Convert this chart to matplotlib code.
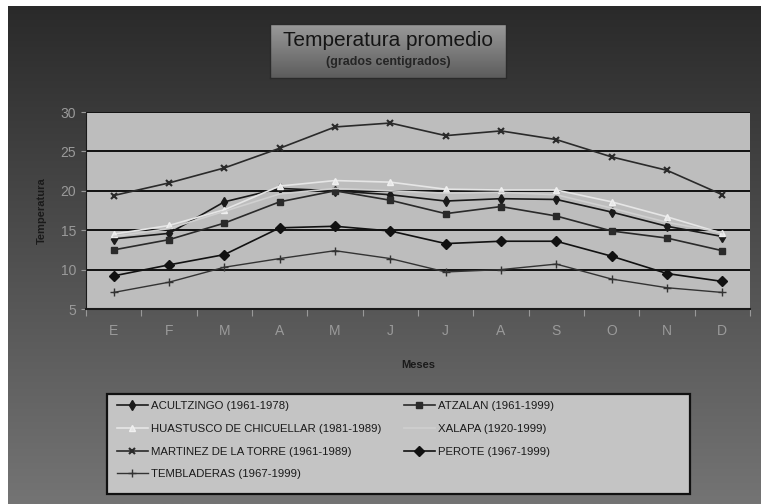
import numpy as np
import matplotlib.pyplot as plt
from matplotlib.colors import LinearSegmentedColormap

# ==============================
# DATOS
# ==============================
meses = ["E", "F", "M", "A", "M", "J", "J", "A", "S", "O", "N", "D"]

acultzingo = [13.9, 14.6, 18.6, 20.3, 20.0, 19.5, 18.7, 19.0, 18.9, 17.3, 15.5, 14.2]
atzalan = [12.5, 13.8, 15.9, 18.6, 20.0, 18.8, 17.1, 18.0, 16.8, 14.9, 14.0, 12.4]
huatusco = [14.5, 15.6, 17.6, 20.6, 21.3, 21.1, 20.2, 20.1, 20.1, 18.6, 16.7, 14.6]
xalapa = [14.2, 15.2, 17.4, 19.6, 20.3, 20.0, 19.7, 19.8, 19.5, 17.8, 16.0, 14.7]
martinez = [19.4, 21.0, 22.9, 25.4, 28.1, 28.6, 27.0, 27.6, 26.5, 24.3, 22.6, 19.5]
perote = [9.2, 10.6, 11.9, 15.3, 15.5, 14.9, 13.3, 13.6, 13.6, 11.7, 9.5, 8.5]
tembladeras = [7.1, 8.4, 10.3, 11.4, 12.4, 11.4, 9.7, 10.0, 10.7, 8.8, 7.7, 7.1]

etiquetas = [
    "ACULTZINGO (1961-1978)",
    "ATZALAN (1961-1999)",
    "HUASTUSCO DE CHICUELLAR (1981-1989)",
    "XALAPA (1920-1999)",
    "MARTINEZ DE LA TORRE (1961-1989)",
    "PEROTE (1967-1999)",
    "TEMBLADERAS (1967-1999)",
]

plt.rcParams["font.family"] = ["Liberation Sans", "DejaVu Sans"]

W, H = 761, 504


def fx(px):
    return px / W


def fy(py):
    return 1 - py / H


# ==============================
# FIGURA
# ==============================
fig = plt.figure(figsize=(7.61, 5.04), dpi=100)
fig.patch.set_facecolor("white")

# fondo degradado oscuro
bg = fig.add_axes([0, 0, 1, 1], zorder=-10)
grad = np.linspace(0, 1, 256).reshape(-1, 1)
bg.imshow(grad, extent=[fx(8), 1, 0, fy(6)], aspect="auto",
          cmap=LinearSegmentedColormap.from_list("g", ["#747474", "#2a2a2a"]),
          origin="lower")
# caja del titulo
bg.imshow(grad, extent=[fx(270), fx(506), fy(78), fy(24)], aspect="auto",
          cmap=LinearSegmentedColormap.from_list("t", ["#5c5c5c", "#9a9a9a"]),
          origin="lower")
bg.plot([fx(270), fx(506), fx(506), fx(270), fx(270)],
        [fy(78), fy(78), fy(24), fy(24), fy(78)], color="#2a2a2a", lw=1)
# marco de la leyenda
bg.fill([fx(107), fx(690), fx(690), fx(107)],
        [fy(494), fy(494), fy(394), fy(394)],
        facecolor="#c4c4c4", edgecolor="#111111", lw=1.6)
bg.set_xlim(0, 1)
bg.set_ylim(0, 1)
bg.axis("off")

fig.text(fx(388), fy(41), "Temperatura promedio", ha="center",
         va="center", fontsize=15, color="#151515")
fig.text(fx(388), fy(62), "(grados centigrados)", ha="center",
         va="center", fontsize=9, color="#252525", fontweight="bold")

# ==============================
# GRAFICO
# ==============================
ax = fig.add_axes([fx(86), fy(309), fx(664), 197 / H])
ax.set_facecolor("#bdbdbd")
x = np.arange(len(meses))

l1, = ax.plot(x, acultzingo, color="#1a1a1a", lw=1.2, marker="d", ms=5)
l2, = ax.plot(x, atzalan, color="#2a2a2a", lw=1.2, marker="s", ms=5)
l3, = ax.plot(x, huatusco, color="#e6e6e6", lw=1.2, marker="^", ms=5,
              markeredgecolor="#f0f0f0")
l4, = ax.plot(x, xalapa, color="#d0d0d0", lw=1.2)
l5, = ax.plot(x, martinez, color="#2a2a2a", lw=1.2, marker="x", ms=5, mew=1.5)
l6, = ax.plot(x, perote, color="#111111", lw=1.2, marker="D", ms=5)
l7, = ax.plot(x, tembladeras, color="#333333", lw=1.0, marker="+", ms=6)

ax.set_xlim(-0.5, 11.5)
ax.set_ylim(5, 30)
ax.set_yticks([5, 10, 15, 20, 25, 30])
ax.yaxis.grid(True, color="#111111", lw=1.4)
ax.set_axisbelow(True)
ax.set_xticks(np.arange(-0.5, 12, 1))
ax.set_xticklabels([])
ax.set_xticks(x, minor=True)
ax.set_xticklabels(meses, minor=True)
ax.tick_params(axis="x", which="minor", length=0, pad=11,
               labelcolor="#9a9a9a", labelsize=10)
ax.tick_params(axis="x", which="major", length=5, color="#999999")
ax.tick_params(axis="y", labelcolor="#9a9a9a", labelsize=10, color="#999999")
for lado in ["top", "right"]:
    ax.spines[lado].set_visible(False)
ax.spines["left"].set_color("#1a1a1a")
ax.spines["bottom"].set_color("#1a1a1a")
ax.spines["bottom"].set_linewidth(1.5)

ax.set_xlabel("Meses", fontsize=8, fontweight="bold", color="#1a1a1a",
              labelpad=16)
ax.set_ylabel("Temperatura", fontsize=8, fontweight="bold", color="#1a1a1a",
              labelpad=10)

# ==============================
# LEYENDA (dos columnas, orden por filas)
# ==============================
opciones = dict(loc="upper left", frameon=False, handlelength=2.7,
                handletextpad=0.25, labelspacing=1.12, borderpad=0,
                borderaxespad=0, prop={"size": 8.2})
leg1 = fig.legend([l1, l3, l5, l7], [etiquetas[i] for i in [0, 2, 4, 6]],
                  bbox_to_anchor=(fx(117), fy(401)), **opciones)
leg2 = fig.legend([l2, l4, l6], [etiquetas[i] for i in [1, 3, 5]],
                  bbox_to_anchor=(fx(404), fy(401)), **opciones)
for leg in (leg1, leg2):
    for t in leg.get_texts():
        t.set_color("#1a1a1a")

fig.savefig("out.png", dpi=100)
